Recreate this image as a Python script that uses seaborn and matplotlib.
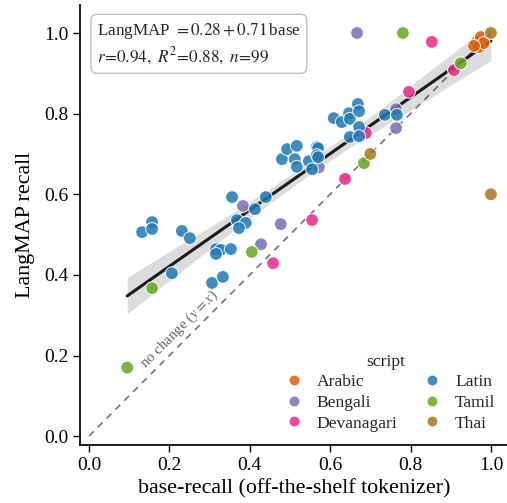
import numpy as np
import pandas as pd
import matplotlib
matplotlib.use("Agg")
import matplotlib.pyplot as plt
import seaborn as sns

# base recall (x) and LangMAP recall (y), one pair of lists per script
arabic_x = [0.965, 0.975, 0.970, 0.982, 0.958]
arabic_y = [0.978, 0.990, 0.965, 0.975, 0.968]

bengali_x = [0.667, 0.764, 0.764, 0.383, 0.477, 0.428, 0.572]
bengali_y = [1.000, 0.811, 0.764, 0.571, 0.526, 0.476, 0.667]

devanagari_x = [0.853, 0.908, 0.796, 0.689, 0.637, 0.555, 0.458]
devanagari_y = [0.978, 0.908, 0.854, 0.752, 0.638, 0.536, 0.429]

latin_x = [0.132, 0.157, 0.157, 0.231, 0.251, 0.206, 0.356, 0.413, 0.368,
           0.390, 0.373, 0.316, 0.328, 0.316, 0.353, 0.306, 0.333, 0.440,
           0.480, 0.493, 0.517, 0.512, 0.517, 0.547, 0.555, 0.567, 0.570,
           0.567, 0.570, 0.609, 0.629, 0.647, 0.649, 0.669, 0.672, 0.672,
           0.649, 0.672, 0.736, 0.766]
latin_y = [0.506, 0.531, 0.514, 0.509, 0.491, 0.404, 0.593, 0.563, 0.536,
           0.529, 0.516, 0.464, 0.462, 0.452, 0.464, 0.380, 0.395, 0.593,
           0.687, 0.712, 0.720, 0.687, 0.668, 0.682, 0.662, 0.717, 0.714,
           0.697, 0.692, 0.789, 0.779, 0.801, 0.787, 0.824, 0.806, 0.767,
           0.742, 0.744, 0.797, 0.797]

tamil_x = [0.095, 0.157, 0.405, 0.684, 0.781, 0.925]
tamil_y = [0.170, 0.367, 0.457, 0.677, 1.000, 0.925]

thai_x = [0.700, 1.000, 1.000]
thai_y = [0.700, 1.000, 0.600]

script_names = ["Arabic", "Bengali", "Devanagari", "Latin", "Tamil", "Thai"]
palette = {"Arabic": "#d95f02", "Bengali": "#7570b3", "Devanagari": "#e7298a",
           "Latin": "#1f78b4", "Tamil": "#66a61e", "Thai": "#a6761d"}

xs = [arabic_x, bengali_x, devanagari_x, latin_x, tamil_x, thai_x]
ys = [arabic_y, bengali_y, devanagari_y, latin_y, tamil_y, thai_y]
df = pd.concat([pd.DataFrame({"base": x, "langmap": y, "script": s})
                for s, x, y in zip(script_names, xs, ys)], ignore_index=True)

sns.set_theme(style="ticks")
plt.rcParams["font.family"] = ["Liberation Serif", "DejaVu Serif"]
plt.rcParams["mathtext.fontset"] = "stix"

fig = plt.figure(figsize=(5.07, 5.03), dpi=100)
# axes runs a little past the right edge (right/top spines are hidden anyway)
ax = fig.add_axes([80 / 507, 58 / 503, 429 / 507, 440 / 503])

# y = x reference
ax.plot([0, 1], [0, 1], ls=(0, (4, 3.5)), color="0.45", lw=1.2, zorder=1)
ax.text(0.224, 0.266, r"no change ($y=x$)", rotation=45, rotation_mode="anchor",
        ha="center", va="center", fontsize=10.7, color="0.4")

sns.regplot(data=df, x="base", y="langmap", scatter=False, ax=ax, ci=88, seed=0,
            color="0.1", line_kws={"lw": 2.2, "zorder": 2})

sns.scatterplot(data=df, x="base", y="langmap", hue="script",
                hue_order=script_names, palette=palette, s=85, alpha=0.85,
                edgecolor="white", linewidth=0.8, ax=ax, zorder=3)

ax.text(0.0396, 0.963,
        "LangMAP $=0.28+0.71\\,$base\n$r\\!=\\!0.94,\\ R^2\\!=\\!0.88,\\ n\\!=\\!99$",
        transform=ax.transAxes, ha="left", va="top", fontsize=12.3,
        linespacing=1.25,
        bbox=dict(boxstyle="round,pad=0.35", fc="white", ec="0.75", lw=1))

ax.set_xlim(-0.0224, 1.045)
ax.set_ylim(-0.022, 1.0695)
ax.set_xticks(np.arange(0, 1.01, 0.2))
ax.set_yticks(np.arange(0, 1.01, 0.2))
ax.tick_params(labelsize=14, length=5, width=1, colors="black")
ax.set_xlabel("base-recall (off-the-shelf tokenizer)", fontsize=15.8, color="black")
ax.set_ylabel("LangMAP recall", fontsize=15.8, color="black", labelpad=6)
for sp in ["left", "bottom"]:
    ax.spines[sp].set_color("black")
sns.despine(ax=ax)

leg = ax.legend(title="script", loc="lower right", ncol=2, frameon=False,
                fontsize=12.6, title_fontsize=12.6, handletextpad=0.3,
                columnspacing=1.0, labelspacing=0.25, markerscale=0.85,
                borderaxespad=0.37)

fig.savefig("out.png", dpi=100)
